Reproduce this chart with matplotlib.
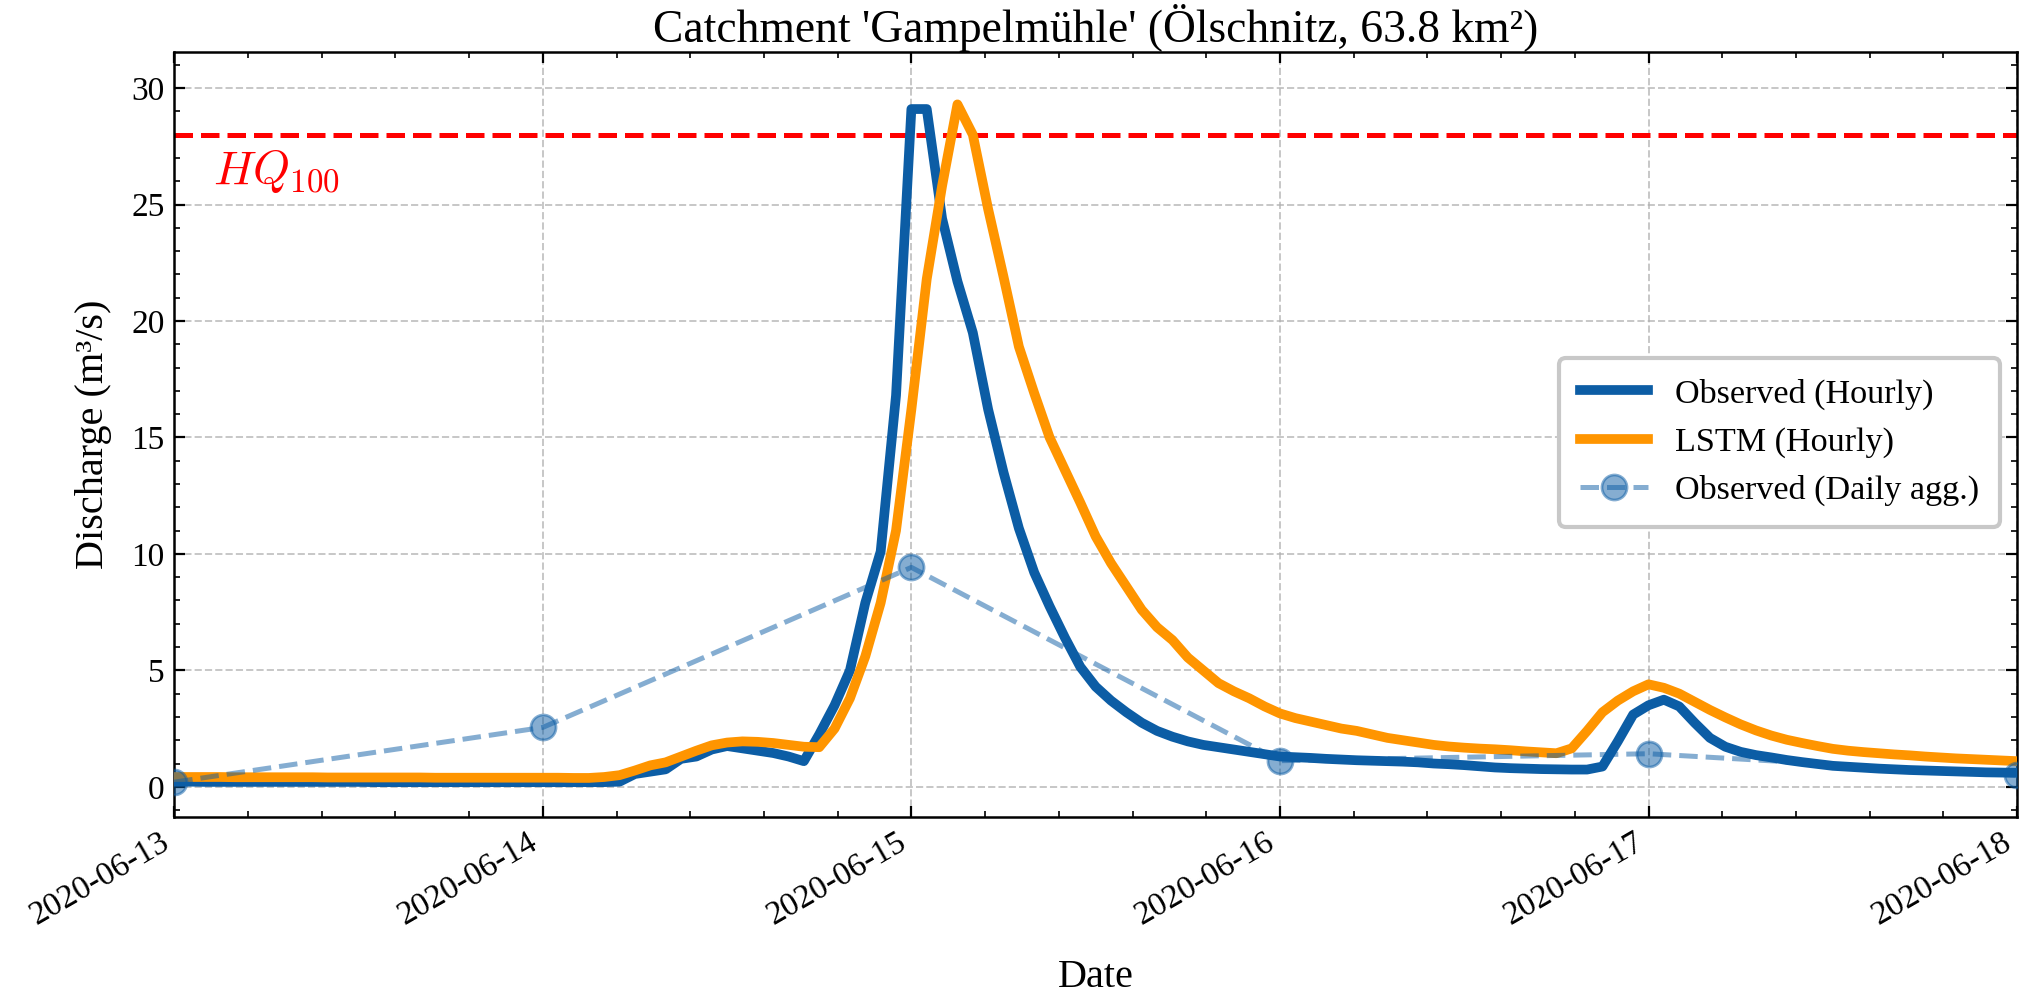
import numpy as np
import pandas as pd
import matplotlib
matplotlib.use("Agg")
import matplotlib.pyplot as plt
import matplotlib.dates as mdates
from matplotlib.ticker import AutoMinorLocator

# hourly discharge (m3/s), 2020-06-13 00:00 .. 2020-06-18 00:00
obs_hourly = [
    # 06-13
    0.22, 0.22, 0.21, 0.21, 0.21, 0.21, 0.21, 0.21, 0.21, 0.21, 0.21, 0.21,
    0.21, 0.2, 0.2, 0.2, 0.2, 0.2, 0.2, 0.2, 0.2, 0.2, 0.2, 0.2,
    # 06-14
    0.2, 0.2, 0.2, 0.2, 0.2, 0.22, 0.55, 0.65, 0.75, 1.2, 1.3, 1.6,
    1.75, 1.65, 1.55, 1.45, 1.3, 1.1, 2.25, 3.5, 5.0, 7.9, 10.1, 16.8,
    # 06-15
    29.1, 29.1, 24.4, 21.7, 19.5, 16.2, 13.5, 11.1, 9.2, 7.75, 6.4, 5.15,
    4.3, 3.7, 3.2, 2.75, 2.4, 2.15, 1.95, 1.8, 1.7, 1.6, 1.5, 1.4,
    # 06-16
    1.3, 1.27, 1.24, 1.2, 1.17, 1.14, 1.12, 1.1, 1.08, 1.05, 1.0, 0.97,
    0.93, 0.88, 0.83, 0.8, 0.78, 0.76, 0.75, 0.74, 0.74, 0.87, 1.95, 3.1,
    # 06-17
    3.5, 3.74, 3.45, 2.75, 2.1, 1.72, 1.5, 1.36, 1.26, 1.15, 1.06, 0.98,
    0.9, 0.86, 0.82, 0.78, 0.75, 0.72, 0.7, 0.68, 0.66, 0.64, 0.62, 0.61,
    # 06-18
    0.6,
]

lstm_hourly = [
    # 06-13
    0.42, 0.42, 0.42, 0.42, 0.41, 0.41, 0.41, 0.41, 0.41, 0.41, 0.4, 0.4,
    0.4, 0.4, 0.4, 0.4, 0.4, 0.39, 0.39, 0.39, 0.39, 0.39, 0.39, 0.39,
    # 06-14
    0.39, 0.39, 0.38, 0.38, 0.42, 0.5, 0.7, 0.92, 1.05, 1.3, 1.55, 1.78,
    1.9, 1.95, 1.93, 1.88, 1.8, 1.72, 1.7, 2.5, 3.8, 5.6, 7.9, 11.0,
    # 06-15
    16.2, 21.8, 25.8, 29.3, 28.0, 24.8, 21.9, 18.9, 16.9, 15.0, 13.6, 12.2,
    10.75, 9.6, 8.6, 7.6, 6.85, 6.3, 5.55, 5.0, 4.45, 4.1, 3.8, 3.45,
    # 06-16
    3.15, 2.95, 2.8, 2.65, 2.5, 2.4, 2.25, 2.1, 2.0, 1.9, 1.8, 1.73,
    1.68, 1.64, 1.61, 1.57, 1.52, 1.48, 1.44, 1.65, 2.4, 3.2, 3.7, 4.1,
    # 06-17
    4.4, 4.25, 4.0, 3.65, 3.3, 2.98, 2.68, 2.42, 2.2, 2.02, 1.88, 1.75,
    1.63, 1.55, 1.49, 1.44, 1.39, 1.35, 1.3, 1.26, 1.22, 1.19, 1.16, 1.13,
    # 06-18
    1.1,
]

daily_dates = ["2020-06-13", "2020-06-14", "2020-06-15", "2020-06-16", "2020-06-17", "2020-06-18"]
obs_daily = [0.2, 2.55, 9.42, 1.12, 1.42, 0.5]

hq100 = 28.0

plt.rcParams['font.family'] = ['Liberation Serif', 'DejaVu Serif']
plt.rcParams['mathtext.fontset'] = 'cm'
plt.rcParams['xtick.direction'] = 'in'
plt.rcParams['ytick.direction'] = 'in'
plt.rcParams['xtick.top'] = True
plt.rcParams['ytick.right'] = True
plt.rcParams['xtick.major.size'] = 4
plt.rcParams['ytick.major.size'] = 4
plt.rcParams['xtick.minor.size'] = 2
plt.rcParams['ytick.minor.size'] = 2
plt.rcParams['axes.linewidth'] = 0.9

hours = pd.date_range("2020-06-13 00:00", periods=len(obs_hourly), freq="h")
days = pd.to_datetime(daily_dates)

fig = plt.figure(figsize=(10.13, 4.97), dpi=200)
ax = fig.add_axes([0.086, 0.178, 0.9096, 0.7697])

ax.plot(hours, obs_hourly, color="#0C5DA5", lw=3.5, label="Observed (Hourly)", zorder=3)
ax.plot(hours, lstm_hourly, color="#FF9500", lw=3.5, label="LSTM (Hourly)", zorder=3)
ax.plot(days, obs_daily, color="#0C5DA5", lw=1.8, ls="--", marker="o", ms=9,
        alpha=0.5, label="Observed (Daily agg.)", zorder=4)
ax.axhline(hq100, color="red", lw=1.8, ls="--", zorder=2)
ax.text(pd.Timestamp("2020-06-13 02:30"), 25.9, r"$HQ_{100}$", color="red", fontsize=17)

ax.set_xlim(pd.Timestamp("2020-06-13"), pd.Timestamp("2020-06-18"))
ax.set_ylim(-1.3, 31.55)
ax.xaxis.set_major_locator(mdates.DayLocator())
ax.xaxis.set_major_formatter(mdates.DateFormatter("%Y-%m-%d"))
ax.xaxis.set_minor_locator(AutoMinorLocator(5))
ax.yaxis.set_minor_locator(AutoMinorLocator(5))
for lab in ax.get_xticklabels():
    lab.set_rotation(30)
    lab.set_ha("right")
ax.tick_params(labelsize=12)

ax.grid(True, ls="--", color="#b0b0b0", alpha=0.7, lw=0.7)
ax.set_xlabel("Date", fontsize=14.5, labelpad=10)
ax.set_ylabel("Discharge (m³/s)", fontsize=14.5, labelpad=7)
ax.set_title("Catchment 'Gampelmühle' (Ölschnitz, 63.8 km²)", fontsize=16.4, pad=3)

leg = ax.legend(loc="center right", bbox_to_anchor=(1.0, 0.49), fontsize=12.3,
                frameon=True, fancybox=True, edgecolor="#c8c8c8", framealpha=1.0,
                borderpad=0.6)
leg.get_frame().set_linewidth(1.5)

fig.savefig("out.png", dpi=200)
